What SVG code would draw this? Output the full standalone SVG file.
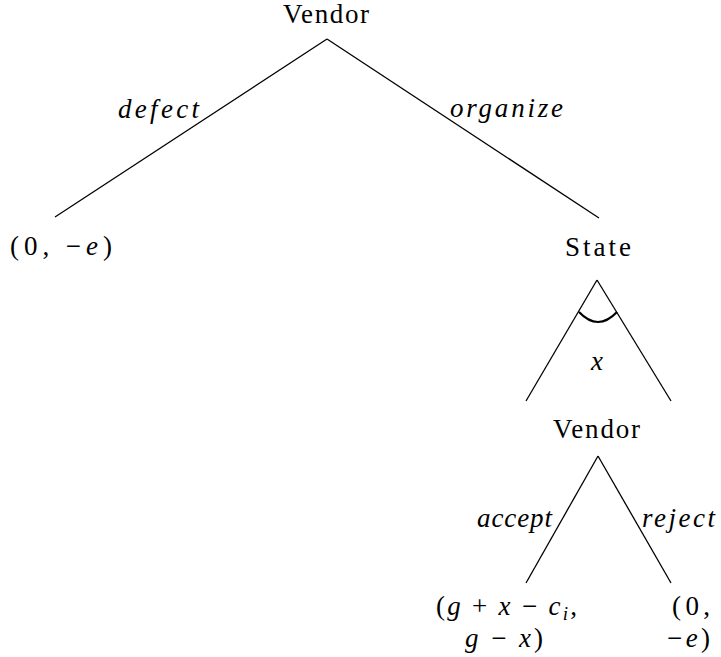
<svg xmlns="http://www.w3.org/2000/svg" width="721" height="657" viewBox="0 0 721 657">
<style>
.e line,.e path{stroke:#000;stroke-width:1.3;fill:none}
</style>
<rect width="721" height="657" fill="#fff"/>
<g id="connectors" class="e">
<line x1="327" y1="39" x2="55" y2="217"/>
<line x1="327" y1="39" x2="599" y2="218"/>
<line x1="597" y1="280" x2="526" y2="401"/>
<line x1="597" y1="280" x2="671" y2="401"/>
<path d="M579,312 Q598,332 617,312" style="stroke-width:2.2"/>
<line x1="598" y1="456" x2="526" y2="583"/>
<line x1="598" y1="456" x2="671" y2="583"/>
</g>
<g id="labels">
<text style="font-family:'Liberation Serif',serif !important;font-size:27px;font-style:italic" x="118" y="118" textLength="81">defect</text>
<text style="font-family:'Liberation Serif',serif !important;font-size:27px;font-style:italic" x="450" y="117" textLength="113">organize</text>
<text style="font-family:'Liberation Serif',serif !important;font-size:27px;font-style:italic" x="597" y="370" text-anchor="middle">x</text>
<text style="font-family:'Liberation Serif',serif !important;font-size:27px;font-style:italic" x="477" y="527" textLength="75">accept</text>
<text style="font-family:'Liberation Serif',serif !important;font-size:27px;font-style:italic" x="642" y="527" textLength="73">reject</text>
</g>
<g id="n_vendor1"><text style="font-family:'Liberation Serif',serif !important;font-size:27px" x="283" y="23" textLength="86">Vendor</text></g>
<g id="n_leaf1"><text style="font-family:'Liberation Serif',serif !important;font-size:27px" x="10" y="255" textLength="102">(0, −<tspan font-style="italic">e</tspan>)</text></g>
<g id="n_state"><text style="font-family:'Liberation Serif',serif !important;font-size:27px" x="565" y="256" textLength="66">State</text></g>
<g id="n_vendor2"><text style="font-family:'Liberation Serif',serif !important;font-size:27px" x="553" y="438" textLength="87">Vendor</text></g>
<g id="n_leaf2">
<text style="font-family:'Liberation Serif',serif !important;font-size:27px" x="436" y="615" textLength="141">(<tspan font-style="italic">g</tspan> + <tspan font-style="italic">x</tspan> − <tspan font-style="italic">c</tspan><tspan font-style="italic" font-size="19" dy="5">i</tspan><tspan dy="-5">,</tspan></text>
<text style="font-family:'Liberation Serif',serif !important;font-size:27px" x="465" y="647" textLength="78"><tspan font-style="italic">g</tspan> − <tspan font-style="italic">x</tspan>)</text>
</g>
<g id="n_leaf3">
<text style="font-family:'Liberation Serif',serif !important;font-size:27px" x="672" y="615" textLength="38">(0,</text>
<text style="font-family:'Liberation Serif',serif !important;font-size:27px" x="667" y="647" textLength="43">−<tspan font-style="italic">e</tspan>)</text>
</g>
</svg>
